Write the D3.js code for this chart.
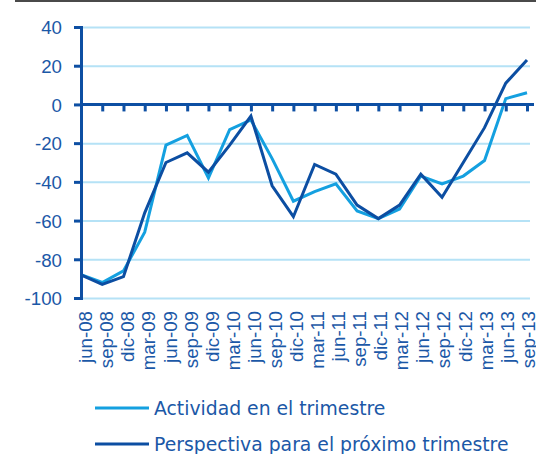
<!DOCTYPE html>
<meta charset="utf-8">

<style type="text/css">
  body {
    margin: 0;
    background: #fff;
  }

  svg {
    font-family: "DejaVu Sans", sans-serif;
  }

  .axis text {
    fill: #1b58a7;
    font-size: 18.7px;
  }

  .grid line {
    stroke: #b5e2f6;
    stroke-width: 2px;
  }

  .grid path {
    display: none;
  }

  .legend text {
    fill: #1b58a7;
    font-size: 18.8px;
  }
</style>

<body>
</body>

<script src="https://d3js.org/d3.v7.min.js"></script>
<script>
  var categories = ["jun-08", "sep-08", "dic-08", "mar-09", "jun-09", "sep-09", "dic-09",
    "mar-10", "jun-10", "sep-10", "dic-10", "mar-11", "jun-11", "sep-11", "dic-11",
    "mar-12", "jun-12", "sep-12", "dic-12", "mar-13", "jun-13", "sep-13"];

  var actividad = [-88, -92, -86, -66, -21, -16, -38, -13, -8, -28, -50, -45, -41,
    -55, -59, -54, -37, -41, -37, -29, 3, 6];

  var perspectiva = [-88, -93, -89, -56, -30, -25, -35, -21, -6, -42, -58, -31, -36,
    -52, -59, -52, -36, -48, -30, -12, 11, 23];

  var yTicks = [-100, -80, -60, -40, -20, 0, 20, 40];

  var seriesNames = ["Actividad en el trimestre", "Perspectiva para el próximo trimestre"];
  var seriesColors = ["#14a0e0", "#0c4ea2"];
  var axisColor = "#0d4fa3";

  var plotLeft = 81,
    plotRight = 527,
    gridRight = 530,
    plotTop = 27,
    plotBottom = 298;

  var svg = d3.select("body").append("svg")
    .attr("width", 536)
    .attr("height", 454);

  var x = d3.scalePoint().domain(categories).range([plotLeft, plotRight]);
  var xLabel = d3.scalePoint().domain(categories).range([85, 527.5]);
  var y = d3.scaleLinear().domain([-100, 40]).range([plotBottom, plotTop]);

  // top rule
  svg.append("line")
    .attr("x1", 15).attr("x2", 536)
    .attr("y1", 1).attr("y2", 1)
    .attr("stroke", "#4a4a4a")
    .attr("stroke-width", 2);

  // gridlines
  svg.append("g")
    .attr("class", "grid")
    .attr("transform", "translate(" + plotLeft + ",0)")
    .call(d3.axisLeft(y).tickValues(yTicks).tickSize(-(gridRight - plotLeft)).tickFormat(""));

  // lines
  var line = d3.line()
    .x(function(d, i) {
      return x(categories[i]);
    })
    .y(function(d) {
      return y(d);
    });

  [actividad, perspectiva].forEach(function(s, k) {
    svg.append("path")
      .datum(s)
      .attr("fill", "none")
      .attr("stroke", seriesColors[k])
      .attr("stroke-width", 3)
      .attr("stroke-linejoin", "miter")
      .attr("d", line);
  });

  // zero axis with ticks
  var zeroAxis = svg.append("g")
    .attr("class", "axis")
    .attr("transform", "translate(0," + y(0) + ")")
    .call(d3.axisBottom(x).tickSize(7).tickSizeOuter(0).tickFormat(""));
  zeroAxis.select(".domain").remove();
  zeroAxis.selectAll(".tick line")
    .attr("stroke", axisColor)
    .attr("stroke-width", 3);
  svg.append("line")
    .attr("x1", plotLeft).attr("x2", 534)
    .attr("y1", y(0)).attr("y2", y(0))
    .attr("stroke", axisColor)
    .attr("stroke-width", 3);

  // y axis
  var yAxis = svg.append("g")
    .attr("class", "axis")
    .attr("transform", "translate(" + plotLeft + ",0)")
    .call(d3.axisLeft(y).tickValues(yTicks).tickSize(7).tickSizeOuter(0).tickPadding(12)
      .tickFormat(function(d) {
        return String(d);
      }));
  yAxis.select(".domain")
    .attr("stroke", axisColor)
    .attr("stroke-width", 3)
    .attr("stroke-linecap", "square");
  yAxis.selectAll(".tick line")
    .attr("stroke", axisColor)
    .attr("stroke-width", 3);
  yAxis.selectAll("text")
    .attr("dy", "0.36em");

  // category labels
  var xLabels = svg.append("g")
    .attr("class", "axis")
    .attr("transform", "translate(0,311)")
    .call(d3.axisBottom(xLabel).tickSize(0).tickPadding(0));
  xLabels.select(".domain").remove();
  xLabels.selectAll("text")
    .attr("x", 0)
    .attr("y", 0)
    .attr("dy", "0.36em")
    .attr("transform", "rotate(-90)")
    .style("text-anchor", "end");

  // legend
  var legend = svg.append("g").attr("class", "legend");
  seriesNames.forEach(function(name, k) {
    var ly = 408 + k * 36;
    legend.append("line")
      .attr("x1", 95).attr("x2", 149)
      .attr("y1", ly).attr("y2", ly)
      .attr("stroke", seriesColors[k])
      .attr("stroke-width", 3);
    legend.append("text")
      .attr("x", 154)
      .attr("y", ly)
      .attr("dy", "0.36em")
      .text(name);
  });
</script>
